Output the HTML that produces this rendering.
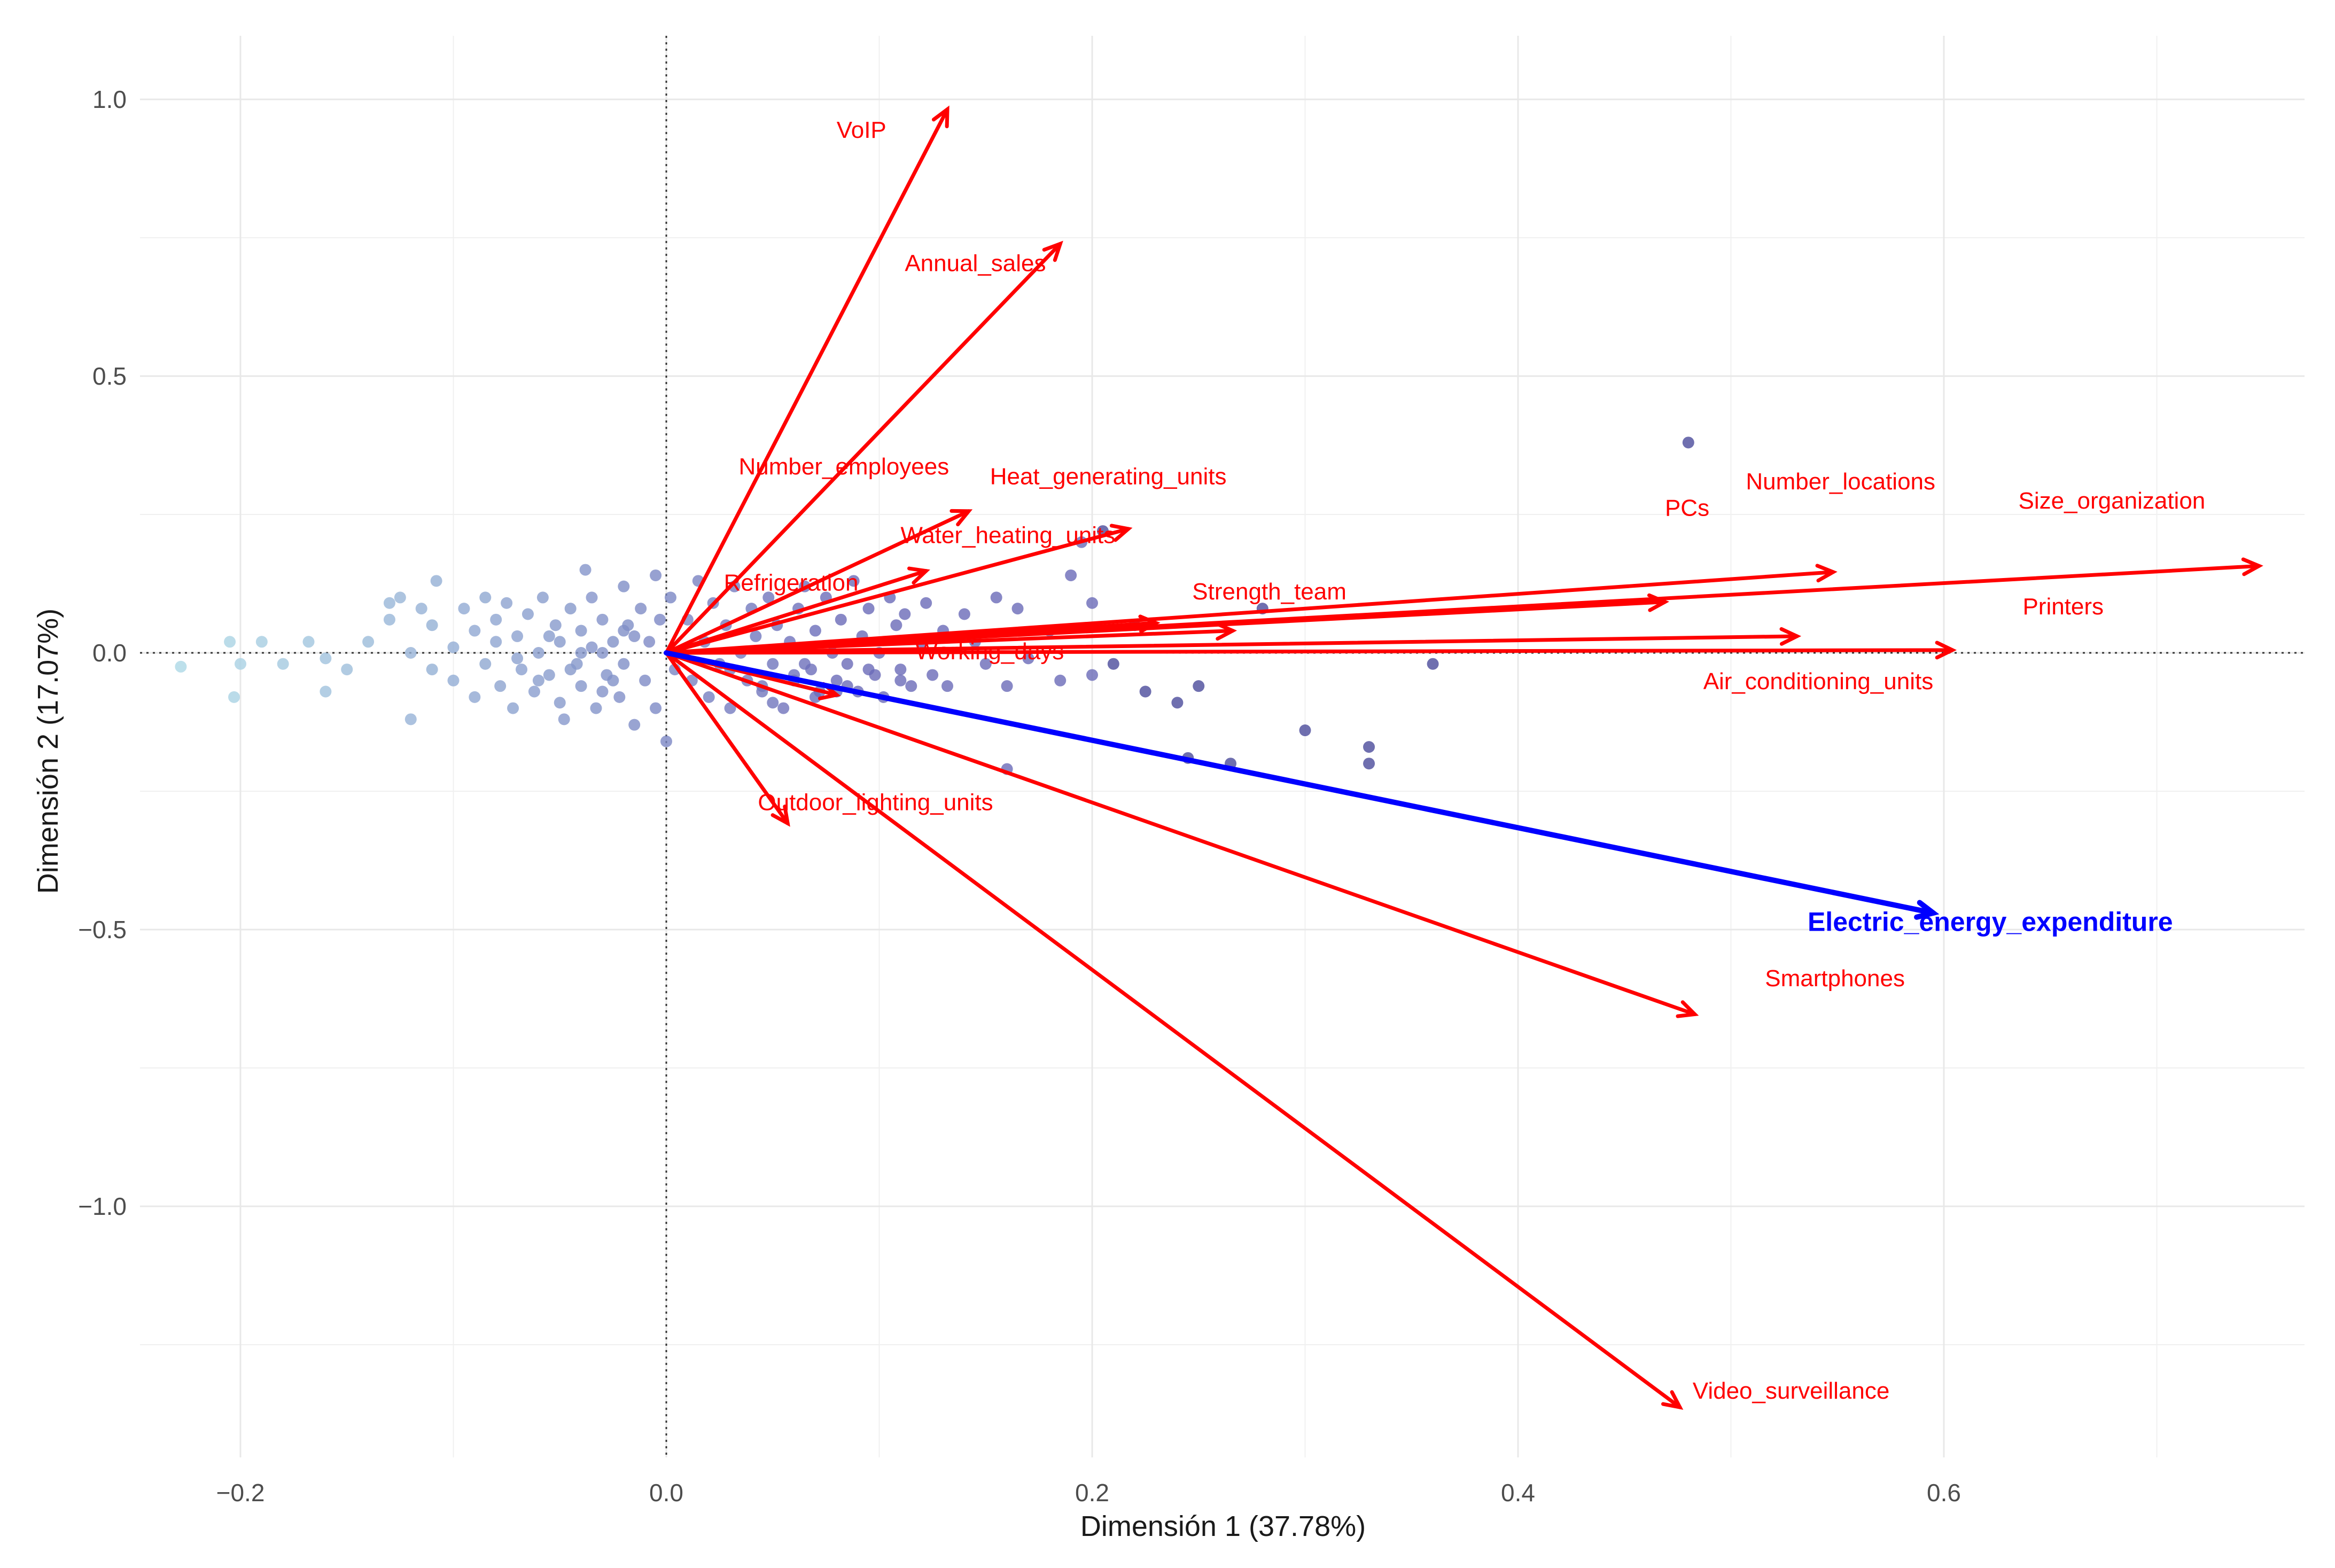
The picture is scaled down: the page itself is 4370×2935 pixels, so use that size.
<!DOCTYPE html>
<html><head><meta charset="utf-8"><style>
html,body{margin:0;padding:0;background:#fff;}
svg{display:block;font-family:"Liberation Sans",sans-serif;}
</style></head><body>
<svg id="chart" width="4370" height="2935" viewBox="0 0 4370 2935">
<g id="grid"></g>
<g id="zero"></g>
<g id="points"></g>
<g id="labels"></g>
<g id="arrows"></g>
<g id="ticks"></g>
<text x="2289" y="2875" text-anchor="middle" font-size="54" fill="#1a1a1a">Dimensión 1 (37.78%)</text>
<text transform="translate(108,1406) rotate(-90)" text-anchor="middle" font-size="54" fill="#1a1a1a">Dimensión 2 (17.07%)</text>
</svg>
<script>
const varNames = ["VoIP","Annual_sales","Number_employees","Heat_generating_units","Water_heating_units","Refrigeration","Working_days","Strength_team","PCs","Number_locations","Size_organization","Printers","Air_conditioning_units","Outdoor_lighting_units","Smartphones","Video_surveillance"];
const varX = [0.132,0.185,0.142,0.217,0.122,0.080,0.230,0.266,0.469,0.548,0.748,0.531,0.604,0.057,0.483,0.476];
const varY = [0.982,0.739,0.256,0.224,0.148,-0.076,0.054,0.040,0.092,0.146,0.157,0.030,0.005,-0.308,-0.653,-1.363];
const labelX = [0.080,0.112,0.034,0.152,0.110,0.027,0.117,0.247,0.469,0.507,0.635,0.637,0.487,0.043,0.516,0.482];
const labelY = [0.945,0.704,0.337,0.319,0.213,0.127,0.003,0.111,0.262,0.310,0.275,0.084,-0.051,-0.270,-0.588,-1.333];
const supName = "Electric_energy_expenditure";
const supX = 0.595, supY = -0.470, supLabelX = 0.536, supLabelY = -0.486;
const xTicks = [-0.2,0.0,0.2,0.4,0.6];
const xTickLabels = ["\u22120.2","0.0","0.2","0.4","0.6"];
const yTicks = [1.0,0.5,0.0,-0.5,-1.0];
const yTickLabels = ["1.0","0.5","0.0","\u22120.5","\u22121.0"];
const xMinor = [-0.1,0.1,0.3,0.5,0.7];
const yMinor = [0.75,0.25,-0.25,-0.75,-1.25];
const ptX = [-0.228,-0.205,-0.203,-0.19,-0.2,-0.18,-0.168,-0.16,-0.16,-0.15,-0.14,-0.13,-0.13,-0.125,-0.12,-0.12,-0.115,-0.11,-0.11,-0.108,-0.1,-0.1,-0.095,-0.09,-0.09,-0.085,-0.085,-0.08,-0.08,-0.078,-0.075,-0.072,-0.07,-0.068,-0.065,-0.062,-0.06,-0.058,-0.055,-0.052,-0.05,-0.05,-0.048,-0.045,-0.042,-0.04,-0.04,-0.038,-0.035,-0.033,-0.03,-0.03,-0.028,-0.025,-0.022,-0.02,-0.02,-0.018,-0.015,-0.012,-0.01,-0.008,-0.005,-0.005,-0.003,0.0,0.002,0.004,0.01,0.012,0.015,0.018,0.02,0.022,0.025,0.028,0.03,0.032,0.035,0.038,0.04,0.042,0.045,0.048,0.05,0.052,0.055,0.058,0.06,0.062,0.065,0.068,0.07,0.072,0.075,0.078,0.08,0.082,0.085,0.088,0.09,0.092,0.095,0.098,0.1,0.102,0.105,0.108,0.11,0.112,0.115,0.12,0.122,0.125,0.13,0.132,0.14,0.145,0.15,0.155,0.16,0.165,0.17,0.18,0.185,0.19,0.195,0.2,0.2,0.205,0.21,0.22,0.225,0.24,0.245,0.25,0.265,0.28,0.3,0.33,0.33,0.36,0.48,0.16,-0.07,-0.055,-0.045,-0.035,-0.025,-0.015,-0.06,-0.04,-0.03,-0.02,0.03,0.045,0.06,0.07,0.085,0.05,0.065,0.08,0.095,0.11];
const ptY = [-0.025,0.02,-0.08,0.02,-0.02,-0.02,0.02,-0.07,-0.01,-0.03,0.02,0.09,0.06,0.1,0.0,-0.12,0.08,0.05,-0.03,0.13,-0.05,0.01,0.08,0.04,-0.08,0.1,-0.02,0.06,0.02,-0.06,0.09,-0.1,0.03,-0.03,0.07,-0.07,0.0,0.1,-0.04,0.05,-0.09,0.02,-0.12,0.08,-0.02,0.04,-0.06,0.15,0.1,-0.1,0.0,0.06,-0.04,0.02,-0.08,0.12,-0.02,0.05,-0.13,0.08,-0.05,0.02,0.14,-0.1,0.06,-0.16,0.1,-0.03,0.06,-0.05,0.13,0.02,-0.08,0.09,-0.02,0.05,-0.1,0.12,0.0,-0.05,0.08,0.03,-0.07,0.1,-0.02,0.05,-0.1,0.02,-0.05,0.08,0.12,-0.03,0.04,-0.07,0.1,0.0,-0.05,0.06,-0.02,0.13,-0.07,0.03,0.08,-0.04,0.0,-0.08,0.1,0.05,-0.03,0.07,-0.06,0.02,0.09,-0.04,0.04,-0.06,0.07,0.02,-0.02,0.1,-0.06,0.08,-0.01,0.04,-0.05,0.14,0.2,0.09,-0.04,0.22,-0.02,0.05,-0.07,-0.09,-0.19,-0.06,-0.2,0.08,-0.14,-0.17,-0.2,-0.02,0.38,-0.21,-0.01,0.03,-0.03,0.01,-0.05,0.03,-0.05,0.0,-0.07,0.04,-0.03,-0.06,-0.04,-0.08,-0.06,-0.09,-0.02,-0.07,-0.03,-0.05];

const X0=1247, XS=3985, Y0=1222, YS=1036;
const L=262, R=4313, T=67, B=2728;
const sx = v => X0 + v*XS;
const sy = v => Y0 - v*YS;
const NS="http://www.w3.org/2000/svg";
function mk(tag, parent, attrs){const e=document.createElementNS(NS,tag);for(const k in attrs)e.setAttribute(k,attrs[k]);parent.appendChild(e);return e;}

const grid=document.getElementById('grid');
xMinor.forEach(v=>{const l=mk('line',grid,{x1:sx(v),x2:sx(v),y1:T,y2:B,stroke:'#f0f0f0','stroke-width':2});

});
yMinor.forEach(v=>{const l=mk('line',grid,{x1:L,x2:R,y1:sy(v),y2:sy(v),stroke:'#f0f0f0','stroke-width':2});

});
xTicks.forEach(v=>{const l=mk('line',grid,{x1:sx(v),x2:sx(v),y1:T,y2:B,stroke:'#e8e8e8','stroke-width':3});

});
yTicks.forEach(v=>{const l=mk('line',grid,{x1:L,x2:R,y1:sy(v),y2:sy(v),stroke:'#e8e8e8','stroke-width':3});

});

const zero=document.getElementById('zero');
const zx=mk('line',zero,{x1:sx(0),x2:sx(0),y1:T,y2:B,stroke:'#333','stroke-width':3,'stroke-dasharray':'4 8'});


const zy=mk('line',zero,{x1:L,x2:R,y1:sy(0),y2:sy(0),stroke:'#333','stroke-width':3,'stroke-dasharray':'4 8'});



function ptColor(x){let t=Math.max(0,Math.min(1,(x+0.22)/0.3));
const a=[173,216,230],b=[106,106,184];
if(x>0.2){return 'rgb(75,75,155)';}
return 'rgb('+a.map((c,i)=>Math.round(c+(b[i]-c)*t)).join(',')+')';}
const pts=document.getElementById('points');
ptX.forEach((x,i)=>{const c=mk('circle',pts,{cx:sx(x),cy:sy(ptY[i]),r:11,fill:ptColor(x),'fill-opacity':0.8});

});

const lab=document.getElementById('labels');
varNames.forEach((n,i)=>{const t=mk('text',lab,{x:sx(labelX[i]),y:sy(labelY[i])+15,'font-size':44,fill:'#ff0000'});
t.textContent=n;

});
const st=mk('text',lab,{x:sx(supLabelX),y:sy(supLabelY)+17,'font-size':50,'font-weight':'bold',fill:'#0000ff'});
st.textContent=supName;



const arr=document.getElementById('arrows');
function arrow(x,y,color,w,name){const g=mk('g',arr,{stroke:color,'stroke-width':w,fill:'none','stroke-linecap':'round'});


const x1=sx(0),y1=sy(0),x2=sx(x),y2=sy(y);
mk('line',g,{x1:x1,y1:y1,x2:x2,y2:y2});
const ang=Math.atan2(y2-y1,x2-x1),h=32,s=0.45;
mk('polyline',g,{points:(x2-h*Math.cos(ang-s))+','+(y2-h*Math.sin(ang-s))+' '+x2+','+y2+' '+(x2-h*Math.cos(ang+s))+','+(y2-h*Math.sin(ang+s))});}
varX.forEach((x,i)=>arrow(x,varY[i],'#ff0000',7,'arrow-'+varNames[i].toLowerCase().replace(/_/g,'-')));
arrow(supX,supY,'#0000ff',10,'arrow-electric-energy-expenditure');

const tk=document.getElementById('ticks');
xTicks.forEach((v,i)=>{const t=mk('text',tk,{x:sx(v),y:2810,'text-anchor':'middle','font-size':46,fill:'#4d4d4d'});
t.textContent=xTickLabels[i];

});
yTicks.forEach((v,i)=>{const t=mk('text',tk,{x:237,y:sy(v)+16,'text-anchor':'end','font-size':46,fill:'#4d4d4d'});
t.textContent=yTickLabels[i];

});
</script>
</body></html>
